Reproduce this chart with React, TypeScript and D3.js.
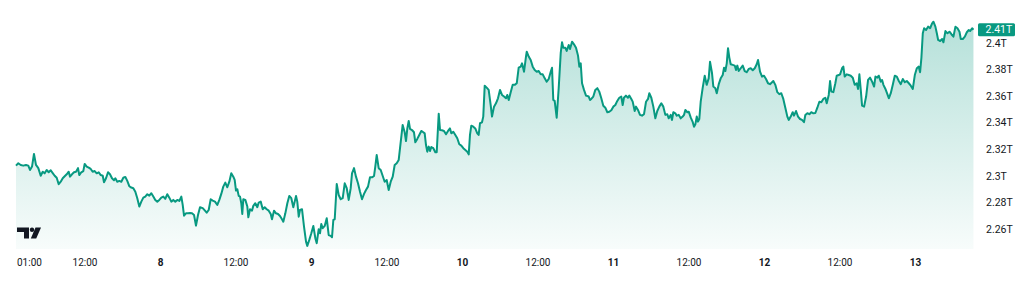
import React from "react";
import * as d3 from "d3";

// hours since day 7 00:00, value in trillions
const day7: [number, number][] = [
  [1.03, 2.3077], [1.4, 2.3095], [1.78, 2.3082], [2.19, 2.3077], [2.62, 2.3082], [2.99, 2.3077], [3.26, 2.3044], [3.58, 2.307], [3.89, 2.3165], [4.21, 2.3082],
  [4.58, 2.3058], [4.96, 2.3001], [5.28, 2.3031], [5.59, 2.3019], [5.91, 2.3044], [6.23, 2.3027], [6.55, 2.3042], [6.87, 2.3021], [7.18, 2.3001], [7.5, 2.2986],
  [7.82, 2.2937], [8.14, 2.2956], [8.46, 2.2982], [8.77, 2.2997], [9.09, 2.3012], [9.41, 2.3031], [9.62, 2.2994], [9.93, 2.3012], [10.25, 2.3027], [10.57, 2.3031],
  [10.89, 2.3058], [11.09, 2.3006], [11.41, 2.3027], [11.73, 2.3036], [11.95, 2.309], [12.27, 2.307], [12.59, 2.3062], [12.91, 2.3052], [13.22, 2.3031], [13.54, 2.3036],
  [13.86, 2.3019], [14.18, 2.3027], [14.5, 2.3006], [14.82, 2.3001], [15.02, 2.2952], [15.34, 2.2982], [15.66, 2.3027], [15.97, 2.3012], [16.29, 2.2982], [16.61, 2.2967],
  [16.82, 2.2982], [17.13, 2.2956], [17.45, 2.2962], [17.77, 2.2956], [18.09, 2.2986], [18.41, 2.2992], [18.72, 2.2962], [19.04, 2.2922], [19.36, 2.2912], [19.68, 2.2907],
  [20.0, 2.2881], [20.31, 2.2832], [20.63, 2.2769], [20.95, 2.2806], [21.27, 2.2836], [21.58, 2.2844], [21.9, 2.2862], [22.22, 2.2851], [22.54, 2.2869], [22.86, 2.2844],
  [23.17, 2.2819], [23.49, 2.2806], [23.81, 2.2819],
];

const day8: [number, number][] = [
  [24.13, 2.2836], [24.45, 2.2844], [24.76, 2.2827], [25.08, 2.2862], [25.4, 2.2836], [25.72, 2.2806], [26.04, 2.2819], [26.35, 2.2806], [26.67, 2.2819], [26.99, 2.2811],
  [27.31, 2.2844], [27.53, 2.2781], [27.74, 2.27], [28.05, 2.2718], [28.37, 2.2718], [28.69, 2.272], [29.01, 2.2718], [29.33, 2.2705], [29.64, 2.2625], [29.96, 2.2705],
  [30.28, 2.2764], [30.71, 2.2757], [31.07, 2.2738], [31.34, 2.2723], [31.66, 2.2743], [31.98, 2.2824], [32.3, 2.2814], [32.66, 2.2806], [33.03, 2.2781], [33.35, 2.2819],
  [33.66, 2.2864], [33.98, 2.2919], [34.3, 2.2949], [34.62, 2.2914], [34.94, 2.2956], [35.25, 2.3019], [35.57, 2.2994], [35.79, 2.2969], [36.0, 2.2889], [36.21, 2.2899],
  [36.43, 2.2849], [36.64, 2.2844], [36.84, 2.2794], [37.0, 2.2713], [37.16, 2.2824], [37.48, 2.2819], [37.8, 2.2769], [37.96, 2.2688], [38.23, 2.2749], [38.54, 2.2738],
  [38.75, 2.2774], [39.07, 2.2794], [39.39, 2.2764], [39.61, 2.2799], [39.93, 2.2806], [40.25, 2.2749], [40.56, 2.2764], [40.88, 2.2749], [41.2, 2.2738], [41.52, 2.2713],
  [41.72, 2.2673], [42.04, 2.2738], [42.36, 2.2718], [42.68, 2.2713], [42.99, 2.2698], [43.31, 2.2673], [43.52, 2.2655], [43.84, 2.2718], [44.16, 2.2794], [44.47, 2.2849],
  [44.79, 2.2832], [45.11, 2.2764], [45.33, 2.2806], [45.54, 2.2849], [45.74, 2.2806], [45.97, 2.2693], [46.17, 2.2743], [46.49, 2.2749], [46.81, 2.2618], [47.13, 2.2505],
  [47.33, 2.2473], [47.65, 2.2518], [47.97, 2.2568],
];

const day9: [number, number][] = [
  [48.29, 2.2623], [48.61, 2.2531], [48.83, 2.2493], [49.14, 2.2598], [49.35, 2.2568], [49.56, 2.2638], [49.78, 2.2606], [50.1, 2.2623], [50.42, 2.2681], [50.73, 2.2555],
  [51.05, 2.2548], [51.26, 2.2538], [51.47, 2.2668], [51.69, 2.2673], [52.01, 2.2939], [52.32, 2.2856], [52.64, 2.2824], [52.96, 2.2832], [53.28, 2.2944], [53.6, 2.2907],
  [53.91, 2.2819], [54.23, 2.2907], [54.44, 2.3019], [54.76, 2.3058], [55.07, 2.2994], [55.39, 2.2944], [55.71, 2.2881], [56.03, 2.2824], [56.35, 2.2864], [56.66, 2.2894],
  [56.98, 2.2919], [57.3, 2.2989], [57.62, 2.2989], [57.94, 2.2999], [58.14, 2.307], [58.36, 2.3157], [58.68, 2.3058], [59.0, 2.3044], [59.32, 2.2999], [59.63, 2.2956],
  [59.95, 2.2969], [60.27, 2.2894], [60.59, 2.2956], [60.91, 2.2994], [61.22, 2.3082], [61.54, 2.3095], [61.86, 2.312], [62.07, 2.3208], [62.49, 2.3383], [62.81, 2.3328],
  [63.02, 2.3262], [63.23, 2.3357], [63.45, 2.3413], [63.66, 2.3353], [63.97, 2.3345], [64.29, 2.3328], [64.5, 2.3253], [64.81, 2.3278], [65.13, 2.3308], [65.45, 2.3338],
  [65.77, 2.3328], [65.99, 2.332], [66.2, 2.3232], [66.4, 2.3182], [66.63, 2.322], [66.84, 2.3187], [67.04, 2.3217], [67.36, 2.3208], [67.68, 2.3178], [67.9, 2.3178],
  [68.22, 2.3468], [68.43, 2.3345], [68.74, 2.3343], [69.06, 2.3338], [69.38, 2.3313], [69.7, 2.3338], [70.01, 2.3357], [70.22, 2.332], [70.54, 2.3332], [70.86, 2.3308],
  [71.17, 2.3283], [71.49, 2.3238], [71.81, 2.3228],
];

const day10: [number, number][] = [
  [72.13, 2.3208], [72.45, 2.3195], [72.76, 2.3182], [72.99, 2.3162], [73.19, 2.3308], [73.4, 2.3378], [73.72, 2.337], [74.03, 2.3357], [74.35, 2.332], [74.57, 2.3308],
  [74.78, 2.3396], [75.1, 2.3403], [75.3, 2.3446], [75.53, 2.3679], [75.84, 2.3664], [76.16, 2.3647], [76.48, 2.3533], [76.69, 2.3446], [77.01, 2.3521], [77.32, 2.3546],
  [77.64, 2.3584], [77.96, 2.3647], [78.28, 2.3609], [78.6, 2.3597], [78.91, 2.3584], [79.12, 2.3609], [79.35, 2.3571], [79.66, 2.363], [79.98, 2.3685], [80.3, 2.3685],
  [80.62, 2.3697], [80.93, 2.3814], [81.25, 2.3822], [81.46, 2.3847], [81.78, 2.3784], [82.09, 2.3898], [82.21, 2.3935], [82.52, 2.3898], [82.84, 2.3872], [83.16, 2.3822],
  [83.48, 2.3797], [83.8, 2.3784], [84.11, 2.3789], [84.43, 2.3764], [84.75, 2.3764], [85.07, 2.3734], [85.38, 2.3709], [85.7, 2.3729], [86.02, 2.3784], [86.23, 2.3814],
  [86.43, 2.3571], [86.65, 2.3564], [86.97, 2.3438], [87.29, 2.366], [87.61, 2.3923], [87.82, 2.4006], [88.02, 2.3965], [88.34, 2.3965], [88.56, 2.394], [88.88, 2.3985],
  [89.09, 2.3955], [89.41, 2.401], [89.72, 2.399], [90.04, 2.3965], [90.36, 2.3905], [90.57, 2.3822], [90.79, 2.3847], [91.0, 2.3697], [91.31, 2.3647], [91.63, 2.3604],
  [92.06, 2.3597], [92.27, 2.3571], [92.47, 2.3579], [92.79, 2.3597], [93.11, 2.3647], [93.43, 2.366], [93.74, 2.3634], [94.06, 2.3584], [94.38, 2.3528], [94.7, 2.3513],
  [95.02, 2.3479], [95.33, 2.3483], [95.65, 2.3494],
];

const day11: [number, number][] = [
  [95.97, 2.3521], [96.29, 2.3533], [96.6, 2.3564], [96.92, 2.3588], [97.24, 2.3597], [97.46, 2.3533], [97.66, 2.3588], [97.98, 2.3604], [98.3, 2.3588], [98.51, 2.3604],
  [98.83, 2.3579], [99.05, 2.3559], [99.37, 2.3488], [99.58, 2.3521], [99.89, 2.3496], [100.21, 2.3459], [100.53, 2.3453], [100.85, 2.3464], [101.17, 2.3558], [101.49, 2.3579],
  [101.69, 2.3622], [102.01, 2.3588], [102.33, 2.3521], [102.65, 2.3433], [102.96, 2.3488], [103.28, 2.3521], [103.6, 2.3546], [103.92, 2.3521], [104.24, 2.3459], [104.55, 2.3464],
  [104.78, 2.3433], [105.09, 2.3459], [105.3, 2.3421], [105.51, 2.3479], [105.83, 2.3471], [106.05, 2.3453], [106.37, 2.3459], [106.68, 2.3433], [107.0, 2.3446], [107.21, 2.3459],
  [107.42, 2.3496], [107.74, 2.3479], [107.96, 2.3483], [108.28, 2.3438], [108.6, 2.3404], [108.8, 2.337], [109.01, 2.3388], [109.23, 2.3446], [109.43, 2.3408], [109.64, 2.3428],
  [109.86, 2.3558], [110.18, 2.3664], [110.5, 2.3754], [110.81, 2.3685], [111.13, 2.3734], [111.34, 2.3859], [111.66, 2.3772], [111.87, 2.3672], [112.19, 2.366], [112.41, 2.3622],
  [112.73, 2.369], [113.04, 2.3734], [113.36, 2.3759], [113.57, 2.3814], [113.78, 2.3789], [114.0, 2.3847], [114.2, 2.3961], [114.41, 2.389], [114.63, 2.384], [114.95, 2.3835],
  [115.27, 2.383], [115.47, 2.3797], [115.68, 2.383], [115.9, 2.3789], [116.22, 2.381], [116.54, 2.383], [116.86, 2.3789], [117.17, 2.378], [117.49, 2.3805], [117.81, 2.381],
  [118.13, 2.3795], [118.45, 2.381], [118.76, 2.384], [118.97, 2.3872], [119.29, 2.3784], [119.61, 2.3747], [119.92, 2.3754],
];

const day12: [number, number][] = [
  [120.24, 2.3729], [120.56, 2.3697], [120.88, 2.369], [121.4, 2.3714], [121.72, 2.3685], [122.04, 2.363], [122.35, 2.3615], [122.67, 2.3622], [122.99, 2.3579], [123.31, 2.3513],
  [123.63, 2.3446], [123.85, 2.3421], [124.17, 2.3446], [124.48, 2.3479], [124.69, 2.3453], [125.01, 2.3488], [125.33, 2.3446], [125.65, 2.3428], [125.96, 2.3421], [126.28, 2.3404],
  [126.49, 2.3458], [126.81, 2.3471], [127.13, 2.3464], [127.44, 2.3479], [127.76, 2.3471], [128.08, 2.3473], [128.4, 2.3513], [128.72, 2.3558], [129.03, 2.3554], [129.35, 2.3579],
  [129.67, 2.3588], [129.89, 2.3546], [130.21, 2.3609], [130.42, 2.3714], [130.62, 2.3634], [130.94, 2.363], [131.26, 2.3697], [131.48, 2.3754], [131.8, 2.3759], [132.01, 2.3764],
  [132.33, 2.381], [132.53, 2.3822], [132.75, 2.3747], [133.07, 2.3764], [133.39, 2.3759], [133.71, 2.3754], [134.03, 2.3739], [134.34, 2.3685], [134.66, 2.3697], [134.87, 2.3654],
  [135.08, 2.3764], [135.3, 2.3647], [135.51, 2.3528], [135.83, 2.3521], [136.15, 2.3597], [136.46, 2.3722], [136.78, 2.3739], [137.1, 2.3709], [137.42, 2.3672], [137.63, 2.3747],
  [137.94, 2.3739], [138.16, 2.3754], [138.48, 2.3709], [138.69, 2.3722], [138.9, 2.3685], [139.22, 2.3654], [139.53, 2.3615], [139.76, 2.3584], [140.07, 2.3622], [140.39, 2.3685],
  [140.71, 2.3754], [141.03, 2.3747], [141.35, 2.3714], [141.66, 2.369], [141.98, 2.3729], [142.3, 2.3705], [142.62, 2.3714], [142.94, 2.3697], [143.25, 2.3679], [143.57, 2.3654],
  [143.89, 2.3759],
];

const day13: [number, number][] = [
  [144.21, 2.381], [144.52, 2.3822], [144.73, 2.378], [144.94, 2.389], [145.16, 2.4073], [145.37, 2.4111], [145.68, 2.4098], [146.0, 2.4123], [146.32, 2.4111], [146.64, 2.4148],
  [146.85, 2.416], [147.16, 2.4123], [147.39, 2.4073], [147.6, 2.4023], [147.92, 2.4015], [148.23, 2.403], [148.44, 2.4005], [148.76, 2.409], [149.08, 2.4073], [149.4, 2.4085],
  [149.71, 2.4066], [150.03, 2.4048], [150.35, 2.4123], [150.67, 2.4111], [150.99, 2.4085], [151.2, 2.403], [151.52, 2.403], [151.84, 2.4048], [152.16, 2.4081], [152.47, 2.4098],
  [152.68, 2.409], [153.0, 2.4111], [153.21, 2.41],
];

const yTicks = [2.26, 2.28, 2.3, 2.32, 2.34, 2.36, 2.38, 2.4];
const xTickHours = [1, 12, 24, 36, 48, 60, 72, 84, 96, 108, 120, 132, 144];
const xTickLabels = ["01:00", "12:00", "8", "12:00", "9", "12:00", "10", "12:00", "11", "12:00", "12", "12:00", "13"];
const xTickBold = [false, false, true, false, true, false, true, false, true, false, true, false, true];

const W = 1024;
const H = 287;
const LINE = "#089981";
const TEXT = "#131722";
const FONT = "Roboto, 'Noto Sans', sans-serif";

const fmtT = (v: number) => `${parseFloat(v.toFixed(2))}T`;

export default function App() {
  const data = [...day7, ...day8, ...day9, ...day10, ...day11, ...day12, ...day13];
  const x = d3.scaleLinear().domain([24, 144]).range([160.5, 915.5]);
  const y = d3.scaleLinear().domain([2.26, 2.4]).range([229, 43]);
  const bottom = 249;
  const plotLeft = 16;

  const line = d3
    .line<[number, number]>()
    .x((d) => x(d[0]))
    .y((d) => y(d[1]));
  const area = d3
    .area<[number, number]>()
    .x((d) => x(d[0]))
    .y0(bottom)
    .y1((d) => y(d[1]));

  const last = data[data.length - 1];

  return (
    <svg
      width={W}
      height={H}
      style={{ position: "absolute", left: 0, top: 0, background: "#ffffff" }}
      fontFamily={FONT}
    >
      <defs>
        <linearGradient id="fillGrad" gradientUnits="userSpaceOnUse" x1={0} y1={20} x2={0} y2={bottom}>
          <stop offset="0%" stopColor={LINE} stopOpacity={0.3} />
          <stop offset="100%" stopColor={LINE} stopOpacity={0.03} />
        </linearGradient>
      </defs>
      <rect x={0} y={0} width={W} height={H} fill="#ffffff" />
      <path d={area(data) || ""} fill="url(#fillGrad)" />
      <path d={line(data) || ""} fill="none" stroke={LINE} strokeWidth={2} strokeLinejoin="round" />

      {/* y axis labels */}
      {yTicks.map((t) => (
        <text key={t} x={986} y={y(t)} dy="0.35em" fontSize={10.5} fill={TEXT}>
          {fmtT(t)}
        </text>
      ))}

      {/* last value badge */}
      <rect x={978} y={y(last[1]) - 6.5} width={37} height={13} rx={1.5} fill={LINE} />
      <text x={985.5} y={y(last[1])} dy="0.35em" fontSize={10.5} fill="#ffffff">
        {fmtT(last[1])}
      </text>

      {/* x axis labels */}
      {xTickHours.map((h, i) => {
        const px = x(h);
        const clamp = px - 12 < plotLeft;
        return (
          <text
            key={i}
            x={clamp ? plotLeft + 1 : px}
            y={262}
            dy="0.35em"
            textAnchor={clamp ? "start" : "middle"}
            fontSize={10}
            fontWeight={xTickBold[i] ? 700 : 400}
            fill={TEXT}
          >
            {xTickLabels[i]}
          </text>
        );
      })}

      {/* TradingView logo */}
      <g fill={TEXT}>
        <path d="M17,227.5 H29 V238.5 H24 V232 H17 Z" />
        <circle cx={32} cy={229.8} r={2.2} />
        <path d="M35.5,227.5 H41 L36.2,238.5 H30.8 Z" />
      </g>
    </svg>
  );
}
